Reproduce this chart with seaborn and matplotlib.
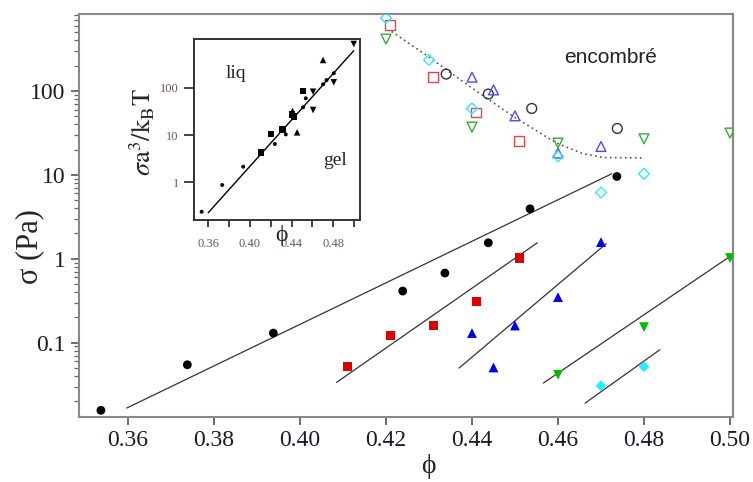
import numpy as np
import pandas as pd
import matplotlib
matplotlib.use("Agg")
import matplotlib.pyplot as plt
import seaborn as sns

# ---- main panel: filled markers (dilute, gel regime) ----
phi_black = [0.3537, 0.3738, 0.3938, 0.4239, 0.4337, 0.4438, 0.4535, 0.4737]
sig_black = [0.0156, 0.0545, 0.130, 0.412, 0.675, 1.55, 3.94, 9.57]
phi_red = [0.411, 0.421, 0.431, 0.441, 0.451]
sig_red = [0.0516, 0.122, 0.160, 0.310, 1.02]
phi_blue = [0.440, 0.445, 0.450, 0.460, 0.470]
sig_blue = [0.130, 0.0506, 0.160, 0.349, 1.58]
phi_green = [0.460, 0.480, 0.500]
sig_green = [0.0414, 0.153, 1.02]
phi_cyan = [0.470, 0.480]
sig_cyan = [0.0306, 0.0516]

# guide lines (start / end points)
line_black_x = [0.3597, 0.4725]
line_black_y = [0.0166, 10.3]
line_red_x = [0.4085, 0.4552]
line_red_y = [0.0336, 1.55]
line_blue_x = [0.437, 0.4712]
line_blue_y = [0.0498, 1.51]
line_green_x = [0.4566, 0.500]
line_green_y = [0.033, 1.065]
line_cyan_x = [0.4663, 0.4837]
line_cyan_y = [0.019, 0.0823]

# ---- main panel: open markers (crowded regime) ----
phi_open_black = [0.434, 0.4438, 0.4539, 0.4738]
sig_open_black = [159, 91.9, 61.9, 35.7]
phi_open_red = [0.4209, 0.4309, 0.4409, 0.4509]
sig_open_red = [615, 146, 55.4, 25.5]
phi_open_blue = [0.440, 0.445, 0.450, 0.460, 0.470]
sig_open_blue = [146, 103, 50.6, 18.2, 21.8]
phi_open_green = [0.420, 0.440, 0.460, 0.480, 0.500]
sig_open_green = [415, 37.1, 23.9, 26.9, 31.5]
phi_open_cyan = [0.420, 0.430, 0.440, 0.460, 0.470, 0.480]
sig_open_cyan = [739, 235, 61.9, 16.6, 6.17, 10.3]

curve_x = [0.4213, 0.4298, 0.4395, 0.4496, 0.4597, 0.4659, 0.4705, 0.4798]
curve_y = [512, 258, 113, 49.7, 23.9, 17.8, 16.1, 15.9]

# ---- inset: rescaled stress ----
in_circ_x = [0.3537, 0.3734, 0.3936, 0.424, 0.4345, 0.4511, 0.4537, 0.4703, 0.4736, 0.4806]
in_circ_y = [0.239, 0.877, 2.14, 6.45, 10.3, 38.5, 59.7, 118, 145, 202]
in_sq_x = [0.4106, 0.4201, 0.4314, 0.4403, 0.4425, 0.4511]
in_sq_y = [4.23, 10.4, 13.2, 27.4, 24.4, 85.1]
in_up_x = [0.4410, 0.4454, 0.4703]
in_up_y = [32.2, 11.4, 385]
in_down_x = [0.4607, 0.4607, 0.4806, 0.4998]
in_down_y = [33.8, 82.3, 130, 839]
in_line_x = [0.36, 0.4998]
in_line_y = [0.228, 606]

sns.set_style("ticks")
serif = ["Liberation Serif", "DejaVu Serif"]
plt.rcParams["font.family"] = serif
plt.rcParams["mathtext.fontset"] = "stix"

fig = plt.figure(figsize=(7.53, 4.82), dpi=100)
ax = fig.add_axes([0.1049, 0.1355, 0.8685, 0.8348])

# guide lines
for lx, ly in [(line_black_x, line_black_y), (line_red_x, line_red_y),
               (line_blue_x, line_blue_y), (line_green_x, line_green_y),
               (line_cyan_x, line_cyan_y)]:
    sns.lineplot(x=lx, y=ly, ax=ax, color="#333333", lw=0.9, estimator=None, sort=False)
sns.lineplot(x=curve_x, y=curve_y, ax=ax, color="#555555", lw=1.2,
             linestyle=(0, (1, 2)), estimator=None, sort=False)

filled = [
    (phi_black, sig_black, "o", "black", 40),
    (phi_red, sig_red, "s", "#dd0000", 45),
    (phi_blue, sig_blue, "^", "#0000ee", 50),
    (phi_green, sig_green, "v", "#00bb00", 50),
    (phi_cyan, sig_cyan, "D", "#22eeff", 30),
]
for px, py, mk, c, s in filled:
    sns.scatterplot(x=px, y=py, ax=ax, marker=mk, color=c, s=s, edgecolor="none", zorder=3)

opened = [
    (phi_open_black, sig_open_black, "o", "#333333"),
    (phi_open_red, sig_open_red, "s", "#e04848"),
    (phi_open_blue, sig_open_blue, "^", "#4a4aff"),
    (phi_open_green, sig_open_green, "v", "#3aaa3a"),
    (phi_open_cyan, sig_open_cyan, "D", "#33e8ff"),
]
for px, py, mk, c in opened:
    ax.scatter(px, py, marker=mk, s=50 if mk != "D" else 30, facecolors="none",
               edgecolors=c, linewidths=1.0, zorder=3)

ax.set_yscale("log")
ax.set_xlim(0.3486, 0.5007)
ax.set_ylim(0.0131, 820)
ax.set_xticks(np.arange(0.36, 0.501, 0.02))
ax.set_xticklabels([f"{v:.2f}" for v in np.arange(0.36, 0.501, 0.02)])
ax.set_yticks([0.1, 1, 10, 100])
ax.set_yticklabels(["0.1", "1", "10", "100"])
ax.yaxis.set_minor_locator(matplotlib.ticker.LogLocator(base=10, subs=np.arange(2, 10)))
ax.yaxis.set_minor_formatter(matplotlib.ticker.NullFormatter())
ax.tick_params(axis="both", which="major", labelsize=17, length=6, width=1.2,
               color="#555555", labelcolor="#1a1a2a", direction="out")
ax.tick_params(axis="y", which="minor", length=3.5, width=0.9, color="#666666")
for sp in ax.spines.values():
    sp.set_color("#888888")
    sp.set_linewidth(1.5)
ax.set_xlabel("ϕ", fontsize=20, va="center")
ax.xaxis.set_label_coords(0.534, -0.125)
ax.set_ylabel("σ (Pa)", fontsize=22, va="center")
ax.yaxis.set_label_coords(-0.076, 0.422)
ax.text(0.4722, 249, "encombré", fontsize=15, family=["Liberation Sans", "DejaVu Sans"],
        ha="center", va="center", color="#222222")

# inset
axi = fig.add_axes([0.2576, 0.5436, 0.2205, 0.3749])
sns.lineplot(x=in_line_x, y=in_line_y, ax=axi, color="black", lw=1.0, estimator=None, sort=False)
sns.scatterplot(x=in_circ_x, y=in_circ_y, ax=axi, marker="o", color="black", s=8, edgecolor="none")
sns.scatterplot(x=in_sq_x, y=in_sq_y, ax=axi, marker="s", color="black", s=22, edgecolor="none")
sns.scatterplot(x=in_up_x, y=in_up_y, ax=axi, marker="^", color="black", s=22, edgecolor="none")
sns.scatterplot(x=in_down_x, y=in_down_y, ax=axi, marker="v", color="black", s=22, edgecolor="none")
axi.set_yscale("log")
axi.set_xlim(0.3463, 0.5058)
axi.set_ylim(0.16, 1055)
axi.set_xticks(np.arange(0.36, 0.501, 0.02))
axi.set_xticklabels([f"{v:.2f}" if i % 2 == 0 else "" for i, v in enumerate(np.arange(0.36, 0.501, 0.02))])
axi.set_yticks([1, 10, 100])
axi.set_yticklabels(["1", "10", "100"])
axi.yaxis.set_minor_locator(matplotlib.ticker.NullLocator())
axi.tick_params(axis="both", labelsize=9, labelcolor="#6a5a55", color="#222222",
                width=1.2, direction="out")
axi.tick_params(axis="y", length=7, pad=4)
axi.tick_params(axis="x", length=5, pad=8)
for sp in axi.spines.values():
    sp.set_color("#333333")
    sp.set_linewidth(1.4)
axi.set_ylabel(r"$\sigma\mathrm{a}^3/\mathrm{k}_\mathrm{B}\mathrm{T}$", fontsize=19, va="center")
axi.yaxis.set_label_coords(-0.313, 0.487)
axi.text(0.4305, -0.03, "ϕ", fontsize=17, ha="center", va="top", transform=axi.get_xaxis_transform())
axi.text(0.377, 160, "liq", fontsize=14)
axi.text(0.470, 2.3, "gel", fontsize=14)

fig.savefig("out.png", dpi=100)
